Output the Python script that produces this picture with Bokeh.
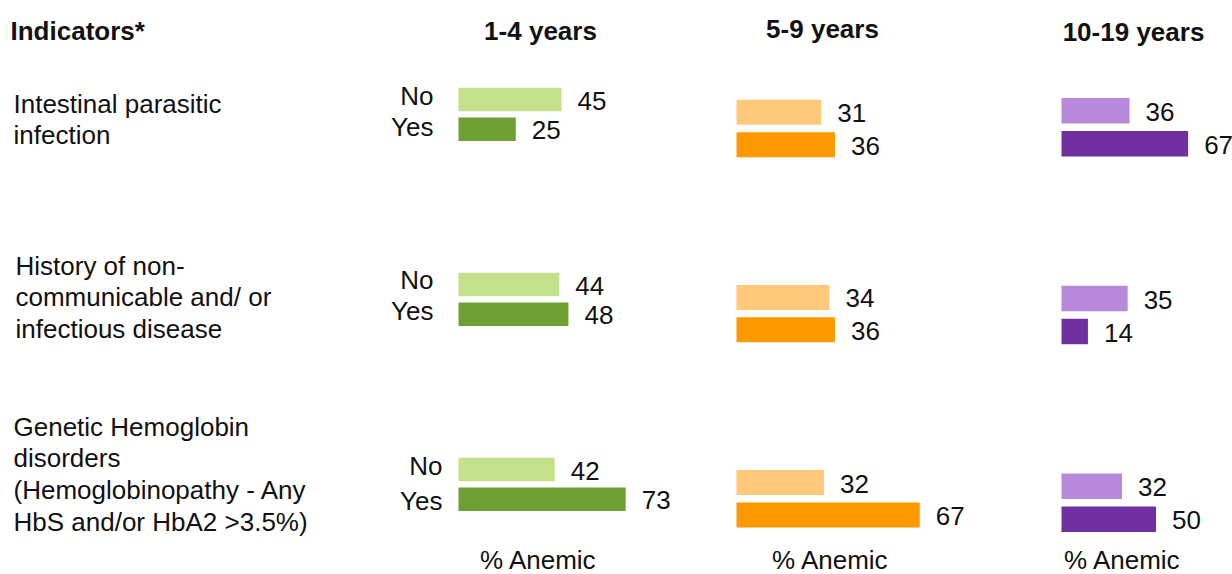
from bokeh.plotting import figure
from bokeh.models import Range1d, ColumnDataSource
from bokeh.core.properties import value
from bokeh.embed import file_html
from bokeh.resources import INLINE

# ---------------- data ----------------
indicators = [
    "Intestinal parasitic\ninfection",
    "History of non-\ncommunicable  and/ or\ninfectious disease",
    "Genetic Hemoglobin\ndisorders\n(Hemoglobinopathy - Any\nHbS and/or HbA2 >3.5%)",
]
age_groups = ["1-4 years", "5-9 years", "10-19 years"]
status_labels = ["No", "Yes"]
no_1_4 = [45, 44, 42]
yes_1_4 = [25, 48, 73]
no_5_9 = [31, 34, 32]
yes_5_9 = [36, 36, 67]
no_10_19 = [36, 35, 32]
yes_10_19 = [67, 14, 50]
axis_label = "% Anemic"
header_label = "Indicators*"

# ---------------- layout / style ----------------
W, H = 1232, 574
FONT = value("Liberation Sans")
TXT = "#111111"
FS = "26px"

groups = [
    dict(name="g0", no=no_1_4, yes=yes_1_4, zero=458.0, ppu=2.29, first=99.0, spacing=185.0,
         yes_off=29.7, bar_h=23.5, c_no="#C4E08A", c_yes="#6F9E32",
         title_xy=(540, 30), axis_xy=(538, 559)),
    dict(name="g1", no=no_5_9, yes=yes_5_9, zero=736.0, ppu=2.735, first=111.8, spacing=185.1,
         yes_off=32.4, bar_h=25.0, c_no="#FFC87A", c_yes="#FF9900",
         title_xy=(822, 28), axis_xy=(830, 559)),
    dict(name="g2", no=no_10_19, yes=yes_10_19, zero=1061.0, ppu=1.89, first=110.3, spacing=187.7,
         yes_off=33.0, bar_h=25.5, c_no="#B888DA", c_yes="#7030A0",
         title_xy=(1133, 31), axis_xy=(1122, 559)),
]

p = figure(width=W, height=H, x_range=Range1d(0, W), y_range=Range1d(H, 0),
           output_backend="svg", toolbar_location=None, min_border=0,
           x_axis_type=None, y_axis_type=None)
p.grid.visible = False
p.outline_line_color = None
p.background_fill_color = "white"
p.border_fill_color = "white"

for gi, g in enumerate(groups):
    n = g["name"]
    p.extra_x_ranges[n] = Range1d(-g["zero"] / g["ppu"], (W - g["zero"]) / g["ppu"])
    p.extra_y_ranges[n] = Range1d((H - g["first"]) / g["spacing"], -g["first"] / g["spacing"])
    rows = list(range(len(indicators)))
    dy = g["yes_off"] / g["spacing"]
    h = g["bar_h"] / g["spacing"]
    for vals, off, col in ((g["no"], 0.0, g["c_no"]), (g["yes"], dy, g["c_yes"])):
        src = ColumnDataSource(dict(y=[r + off for r in rows], v=vals,
                                    lab=[str(x) for x in vals]))
        p.hbar(y="y", left=0, right="v", height=h, source=src, fill_color=col,
               line_color=None, x_range_name=n, y_range_name=n)
        p.text(x="v", y="y", text="lab", source=src, x_offset=16, y_offset=1,
               text_font=FONT, text_font_size=FS, text_color=TXT,
               text_baseline="middle", text_align="left",
               x_range_name=n, y_range_name=n)
    # group title and axis caption
    tx, ty = g["title_xy"]
    ax, ay = g["axis_xy"]
    p.text(x=[tx], y=[ty], text=[age_groups[gi]], text_font=FONT,
           text_font_size=FS, text_font_style="bold", text_color=TXT,
           text_align="center", text_baseline="middle")
    p.text(x=[ax], y=[ay], text=[axis_label], text_font=FONT, text_font_size=FS,
           text_color=TXT, text_align="center", text_baseline="middle")

# header
p.text(x=[10], y=[30], text=[header_label], text_font=FONT, text_font_size=FS,
       text_font_style="bold", text_color=TXT, text_align="left", text_baseline="middle")

# indicator labels (line by line)
label_x = [13, 15, 13]
label_y0 = [103, 265, 426]
line_h = 31.8
lx, ly, lt = [], [], []
for i, lab in enumerate(indicators):
    for j, line in enumerate(lab.split("\n")):
        lx.append(label_x[i]); ly.append(label_y0[i] + j * line_h); lt.append(line)
p.text(x=lx, y=ly, text=lt, text_font=FONT, text_font_size=FS, text_color=TXT,
       text_align="left", text_baseline="middle")

# No / Yes labels next to the first group
ny_x = [433, 433, 442]
ny_y = [(95, 126), (279, 310), (465, 500)]
sx, sy, st = [], [], []
for i in range(len(indicators)):
    for k, s in enumerate(status_labels):
        sx.append(ny_x[i]); sy.append(ny_y[i][k]); st.append(s)
p.text(x=sx, y=sy, text=st, text_font=FONT, text_font_size=FS, text_color=TXT,
       text_align="right", text_baseline="middle")

open("out.html", "w").write(file_html(p, INLINE))
